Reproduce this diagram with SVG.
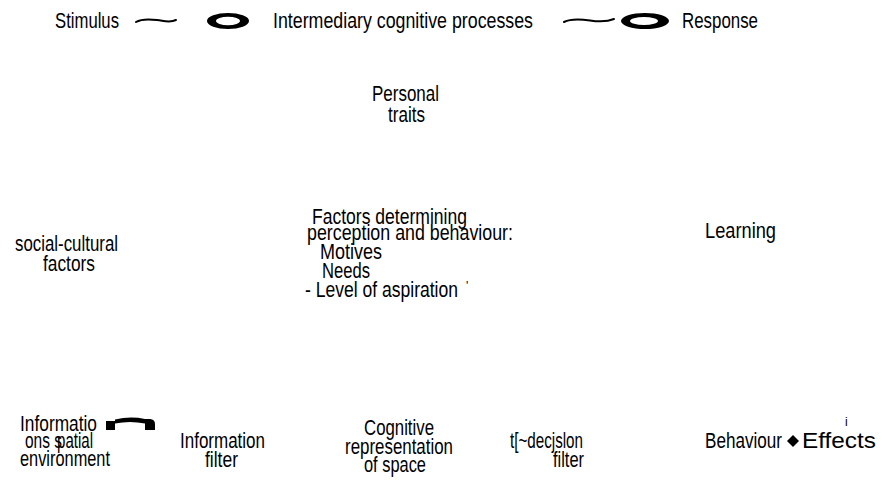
<svg xmlns="http://www.w3.org/2000/svg" width="885" height="484" viewBox="0 0 885 484">
<style>
.t{font-family:"Liberation Sans",Arial,sans-serif;font-size:22px;fill:#000}
.w{font-family:"Liberation Sans",Arial,sans-serif;font-size:22px;fill:#000}
.s{font-family:"Liberation Sans",Arial,sans-serif;font-size:12px;fill:#000}
.tl{fill:none;stroke:#000;stroke-width:2;stroke-linecap:round}
.ring{fill:#000;fill-rule:evenodd}
</style>
<rect width="885" height="484" fill="#fff"/>
<g id="stimulus"><text class="t" x="55" y="28" textLength="64" lengthAdjust="spacingAndGlyphs">Stimulus</text></g>
<g id="intermediary"><text class="t" x="273" y="28" textLength="260" lengthAdjust="spacingAndGlyphs">Intermediary cognitive processes</text></g>
<g id="response"><text class="t" x="682" y="28" textLength="76" lengthAdjust="spacingAndGlyphs">Response</text></g>
<g id="personal-traits">
<text class="t" x="372" y="101" textLength="67" lengthAdjust="spacingAndGlyphs">Personal</text>
<text class="t" x="388" y="122" textLength="37" lengthAdjust="spacingAndGlyphs">traits</text>
</g>
<g id="social-cultural">
<text class="t" x="15" y="251" textLength="103" lengthAdjust="spacingAndGlyphs">social-cultural</text>
<text class="t" x="43" y="271" textLength="52" lengthAdjust="spacingAndGlyphs">factors</text>
</g>
<g id="learning"><text class="t" x="705" y="238" textLength="71" lengthAdjust="spacingAndGlyphs">Learning</text></g>
<g id="factors">
<text class="t" x="312" y="224" textLength="155" lengthAdjust="spacingAndGlyphs">Factors determining</text>
<text class="t" x="307" y="240" textLength="206" lengthAdjust="spacingAndGlyphs">perception and behaviour:</text>
<text class="t" x="320" y="259" textLength="62" lengthAdjust="spacingAndGlyphs">Motives</text>
<text class="t" x="322" y="278" textLength="48" lengthAdjust="spacingAndGlyphs">Needs</text>
<text class="t" x="305" y="297" textLength="153" lengthAdjust="spacingAndGlyphs">- Level of aspiration</text>
<text class="s" x="466" y="290" font-size="9">'</text>
</g>
<g id="information-environment">
<text class="t" x="20" y="431" textLength="77" lengthAdjust="spacingAndGlyphs">Informatio</text>
<text class="t" x="25" y="448">
<tspan textLength="37" lengthAdjust="spacingAndGlyphs">ons s</tspan><tspan x="57" textLength="36" lengthAdjust="spacingAndGlyphs">patial</tspan>
</text>
<text class="t" x="20" y="466" textLength="90" lengthAdjust="spacingAndGlyphs">environment</text>
</g>
<g id="information-filter">
<text class="t" x="180" y="448" textLength="85" lengthAdjust="spacingAndGlyphs">Information</text>
<text class="t" x="205" y="467" textLength="33" lengthAdjust="spacingAndGlyphs">filter</text>
</g>
<g id="cognitive-representation">
<text class="t" x="364" y="435" textLength="70" lengthAdjust="spacingAndGlyphs">Cognitive</text>
<text class="t" x="345" y="454" textLength="108" lengthAdjust="spacingAndGlyphs">representation</text>
<text class="t" x="364" y="472" textLength="62" lengthAdjust="spacingAndGlyphs">of space</text>
</g>
<g id="decision-filter">
<text class="t" x="510" y="448" textLength="73" lengthAdjust="spacingAndGlyphs">t[~decjslon</text>
<text class="t" x="553" y="467" textLength="31" lengthAdjust="spacingAndGlyphs">filter</text>
</g>
<g id="behaviour"><text class="t" x="705" y="448" textLength="77" lengthAdjust="spacingAndGlyphs">Behaviour</text></g>
<g id="effects">
<text class="w" x="802" y="448" textLength="74" lengthAdjust="spacingAndGlyphs">Effects</text>
<text class="s" x="845" y="426">i</text>
</g>
<g id="connectors">
<path class="tl" d="M136,22 C141,19 149,19 157,20 C165,21 170,23 176,20"/>
<path class="ring" d="M207,21 A21,8 0 1,0 249,21 A21,8 0 1,0 207,21 Z M216,21 A12,4.2 0 1,0 240,21 A12,4.2 0 1,0 216,21 Z"/>
<path class="tl" d="M564,22 C570,19 580,19 590,20.5 C600,22 607,22 614,19"/>
<path class="ring" d="M621,21 A24,8 0 1,0 669,21 A24,8 0 1,0 621,21 Z M630,21 A14,4 0 1,0 658,21 A14,4 0 1,0 630,21 Z"/>
<path fill="#000" d="M106,421 L115,421 L115,419.5 Q130,416 145,419 L150,419 Q155,419.5 155,424 L155,430 L145,430 L145,423.5 Q130,420.5 115,423.5 L115,430 L106,430 Z"/>
<path fill="#000" d="M787,441 L793,435 L799,441 L793,447 Z"/>
</g>
</svg>
